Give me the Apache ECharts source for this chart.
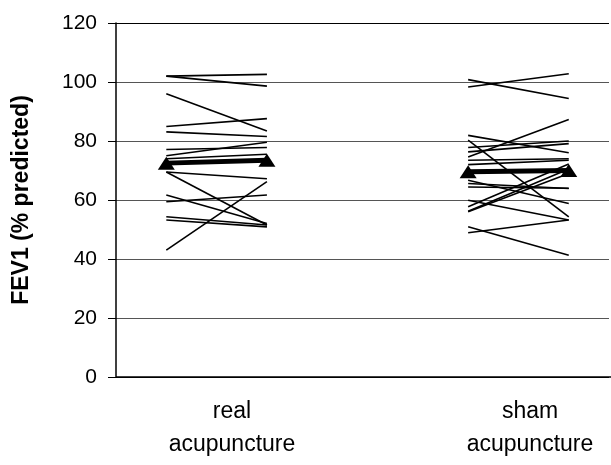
<!DOCTYPE html>
<html>
<head>
<meta charset="utf-8">
<script src="https://cdn.jsdelivr.net/npm/echarts@6/dist/echarts.min.js"></script>
<style>html,body{margin:0;padding:0;background:#fff;}#c{width:611px;height:465px;}</style>
</head>
<body>
<div id="c"></div>
<script>
// x positions: before/after for each group
var groupLabels = ['real\nacupuncture', 'sham\nacupuncture'];
var groupX = [[1, 2], [4, 5]];
var yTicks = [0, 20, 40, 60, 80, 100, 120];

// individual patients: [before, after] FEV1 (% predicted)
var realPairs = [
  [102.0, 102.6], [102.0, 98.6], [96.0, 83.4], [84.9, 87.6], [83.1, 81.5],
  [77.1, 77.8], [75.0, 79.6], [74.0, 75.5], [69.5, 67.2], [69.5, 51.5],
  [61.7, 52.0], [59.4, 61.7], [54.3, 51.5], [53.2, 50.9], [43.0, 66.2]
];
var shamPairs = [
  [100.8, 94.4], [98.3, 102.8], [81.9, 76.0], [80.3, 54.3], [77.8, 80.0],
  [76.3, 79.1], [74.6, 87.3], [73.5, 74.0], [72.0, 73.5], [66.7, 58.8],
  [65.6, 63.9], [64.4, 64.0], [59.9, 53.2], [57.7, 72.2], [56.2, 70.5],
  [56.0, 69.0], [50.9, 41.3], [48.9, 53.2]
];
var realMean = [72.5, 73.5];
var shamMean = [69.6, 70.0];

var series = [];
function addPairs(pairs, xs) {
  pairs.forEach(function (p) {
    series.push({
      type: 'line', data: [[xs[0], p[0]], [xs[1], p[1]]],
      symbol: 'none', lineStyle: { color: '#000', width: 1.6 }, silent: true, z: 2
    });
  });
}
addPairs(realPairs, groupX[0]);
addPairs(shamPairs, groupX[1]);
[[realMean, groupX[0]], [shamMean, groupX[1]]].forEach(function (m) {
  series.push({
    type: 'line', data: [[m[1][0], m[0][0]], [m[1][1], m[0][1]]],
    symbol: 'triangle', symbolSize: [17, 13], itemStyle: { color: '#000' },
    lineStyle: { color: '#000', width: 5 }, silent: true, z: 3
  });
});

var font = 'Liberation Sans, Arial, sans-serif';
var chart = echarts.init(document.getElementById('c'), null, { renderer: 'canvas' });
chart.setOption({
  animation: false,
  backgroundColor: '#fff',
  grid: { left: 116, right: 2, top: 23, bottom: 88 },
  xAxis: {
    type: 'value', min: 0.5, max: 5.4,
    axisLine: { show: false }, axisTick: { show: false },
    axisLabel: { show: false }, splitLine: { show: false }
  },
  yAxis: {
    type: 'value', min: yTicks[0], max: yTicks[yTicks.length - 1], interval: 20,
    name: 'FEV1 (% predicted)', nameLocation: 'middle', nameGap: 83, nameRotate: 90,
    nameTextStyle: { fontFamily: font, fontWeight: 'bold', fontSize: 23, color: '#000' },
    axisLine: { show: true, lineStyle: { color: '#000', width: 1.5 } },
    axisTick: { show: true, inside: false, length: 8, lineStyle: { color: '#000' } },
    axisLabel: { fontFamily: font, fontSize: 21, color: '#000', margin: 19 },
    splitLine: { show: true, lineStyle: { color: ['#000', '#555', '#555', '#555', '#555', '#555', '#000'], width: 1 } }
  },
  graphic: [
    { type: 'line', shape: { x1: 116, y1: 377, x2: 611, y2: 377 }, style: { stroke: '#000', lineWidth: 1.5 } },
    { type: 'text', x: 232, y: 428, style: { text: groupLabels[0], textAlign: 'center', textVerticalAlign: 'middle', font: '23px ' + font, lineHeight: 33, fill: '#000' } },
    { type: 'text', x: 530, y: 428, style: { text: groupLabels[1], textAlign: 'center', textVerticalAlign: 'middle', font: '23px ' + font, lineHeight: 33, fill: '#000' } }
  ],
  series: series
});
</script>
</body>
</html>
